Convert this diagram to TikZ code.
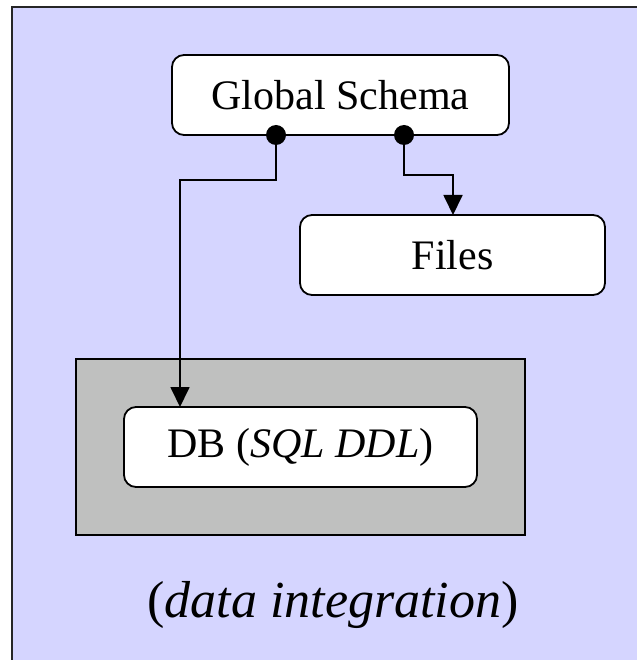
\documentclass[tikz,border=0pt]{standalone}
\usepackage{fontspec}
\setmainfont{Liberation Serif}
\usetikzlibrary{arrows.meta,positioning,calc}

\definecolor{lavender}{RGB}{213,213,255}
\definecolor{dbgray}{RGB}{191,192,191}

\begin{document}
\begin{tikzpicture}[x=1pt,y=-1pt]
\tikzset{
  schemabox/.style={rectangle, rounded corners=12pt, draw=black, line width=1.8pt, fill=white,
    minimum height=80pt, font=\fontsize{42}{48}\selectfont, inner sep=0pt},
  grayarea/.style={rectangle, draw=black, line width=1.8pt, fill=dbgray, inner sep=0pt},
  link/.style={-{Triangle[length=20pt,width=19pt]}, line width=1.8pt, draw=black},
  joint/.style={circle, fill=black, inner sep=0pt, minimum size=20pt}
}

% background
\useasboundingbox (0,0) rectangle (636,660);
\fill[lavender] (12,7) rectangle (640,664);
\draw[line width=2.4pt, black!85] (12,664) |- (640,7);

\node[grayarea, minimum width=449pt, minimum height=176pt] (area) at (300.5,447) {};
\node[schemabox, minimum width=337pt] (global) at (340.5,95) {Global Schema};
\node[schemabox, minimum width=305pt] (files) at (452.5,255) {Files};
\node[schemabox, minimum width=353pt] (db) at (300.5,447) {DB (\textit{SQL DDL})};
\node[font=\fontsize{52}{60}\selectfont] (caption) at (333,605) {(\textit{data integration})};

\coordinate (dbin) at (180,407);
\coordinate (filesin) at (453,215);
\coordinate (out1) at (276,135);
\coordinate (out2) at (404,135);

\draw[link] (out1) |- (180,180) -- (dbin);
\draw[link] (out2) |- (453,175) -- (filesin);
\node[joint] at (out1) {};
\node[joint] at (out2) {};
\end{tikzpicture}
\end{document}
